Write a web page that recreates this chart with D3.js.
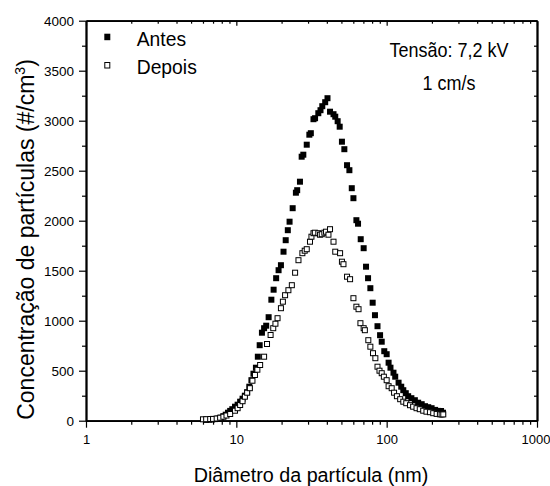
<!DOCTYPE html>
<html>
<head>
<meta charset="utf-8">
<script src="https://cdn.jsdelivr.net/npm/d3@7/dist/d3.min.js"></script>
<style>
  body { margin: 0; background: #fff; }
  svg { display: block; }
  text { font-family: "Liberation Sans", Arial, Helvetica, sans-serif; fill: #000; }
</style>
</head>
<body>
<svg id="chart" width="550" height="486"></svg>
<script>
// Particle size distribution before / after (diameter in nm, concentration in #/cm3)
const antesDiam = [6.3, 6.6, 6.9, 7.2, 7.6, 7.9, 8.2, 8.5, 8.8, 9.1, 9.4, 9.8, 10.2, 10.6, 11.0, 11.4, 11.8, 12.2, 12.6, 13.0,
  13.5, 13.9, 14.3, 14.8, 15.3, 15.8, 16.4, 17.1, 17.7, 18.4, 19.1, 19.8, 20.6, 21.3, 22.0, 22.6, 23.7, 24.9, 25.4, 26.5,
  27.2, 27.9, 29.4, 30.6, 31.3, 32.6, 33.4, 35.1, 36.3, 37.3, 39.0, 40.4, 42.0, 44.3, 45.5, 47.2, 48.7, 50.4, 52.3, 54.5,
  56.5, 58.6, 60.1, 62.9, 64.5, 67.2, 70.3, 72.9, 75.2, 77.9, 80.7, 83.6, 86.9, 90.4, 92.7, 96.4, 100, 103, 106, 111,
  114, 120, 125, 129, 134, 139, 146, 154, 162, 171, 180, 189, 199, 210, 220, 230, 237];
const antesConc = [8, 10, 12, 16, 22, 30, 45, 60, 80, 98, 115, 140, 160, 190, 220, 250, 285, 340, 405, 470,
  530, 640, 755, 880, 925, 950, 1035, 1210, 1310, 1425, 1505, 1555, 1690, 1805, 1905, 1990, 2125, 2280, 2305, 2390,
  2640, 2660, 2760, 2860, 2875, 3015, 3025, 3075, 3105, 3145, 3185, 3225, 3090, 3065, 3040, 2995, 2940, 2790, 2715, 2555,
  2505, 2325, 2225, 2005, 1970, 1815, 1725, 1540, 1425, 1325, 1180, 1055, 945, 855, 790, 695, 665, 580, 530, 480,
  440, 380, 340, 305, 275, 245, 225, 205, 180, 165, 145, 135, 125, 108, 98, 97, 80];

const depoisDiam = [6.0, 6.3, 6.7, 7.0, 7.4, 7.8, 8.2, 8.6, 9.1, 9.8, 10.2, 10.6, 11.0, 11.4, 11.8, 12.3, 12.8, 13.3, 13.8, 14.4,
  15.3, 16.0, 16.9, 17.6, 18.2, 18.8, 19.8, 20.4, 21.1, 22.2, 23.4, 24.6, 25.9, 27.5, 28.5, 29.4, 30.9, 31.6, 32.6, 33.3,
  35.1, 36.0, 37.0, 38.5, 39.5, 41.0, 42.0, 44.3, 45.5, 49.0, 50.4, 51.6, 54.5, 57.1, 60.1, 62.9, 65.0, 66.9, 70.3, 71.6,
  75.5, 77.9, 81.1, 84.1, 86.9, 89.6, 92.7, 95.8, 100, 103, 108, 112, 117, 123, 129, 135, 143, 150, 158, 166,
  175, 184, 194, 204, 215, 226, 232, 238];
const depoisConc = [14, 15, 17, 18, 22, 30, 40, 52, 67, 100, 125, 157, 195, 240, 280, 325, 400, 457, 510, 557,
  640, 767, 857, 925, 970, 1025, 1125, 1190, 1255, 1305, 1355, 1480, 1605, 1675, 1700, 1715, 1790, 1840, 1875, 1880,
  1875, 1860, 1865, 1880, 1890, 1860, 1915, 1790, 1690, 1675, 1590, 1565, 1440, 1415, 1225, 1140, 1115, 975, 925, 905,
  805, 740, 675, 625, 540, 500, 475, 440, 405, 345, 325, 280, 245, 215, 190, 175, 155, 140, 125, 115,
  100, 90, 85, 75, 68, 64, 62, 63];

const xTickValues = [1, 10, 100, 1000];
const yTickValues = [0, 500, 1000, 1500, 2000, 2500, 3000, 3500, 4000];
const yMinorValues = [250, 750, 1250, 1750, 2250, 2750, 3250, 3750];
const xMinorValues = [2, 3, 4, 5, 6, 7, 8, 9, 20, 30, 40, 50, 60, 70, 80, 90, 200, 300, 400, 500, 600, 700, 800, 900];

const seriesNames = ["Antes", "Depois"];
const noteLines = ["Tensão: 7,2 kV", "1 cm/s"];

const svg = d3.select("#chart");
const plotLeft = 86, plotRight = 537, plotTop = 20.7, plotBottom = 420.7;

const x = d3.scaleLog().domain([1, 1000]).range([plotLeft, plotRight]);
const y = d3.scaleLinear().domain([0, 4000]).range([plotBottom, plotTop]);

const axisStroke = 1.8;
function styleAxis(g, fontSize) {
  g.attr("font-family", null);
  g.select(".domain").attr("stroke", "#000").attr("stroke-width", axisStroke);
  g.selectAll(".tick line").attr("stroke", "#000").attr("stroke-width", 1.2);
  g.selectAll("text").attr("font-size", fontSize || 13.5).attr("fill", "#000");
}

// Left axis (outward ticks with labels)
svg.append("g").attr("transform", `translate(${plotLeft},0)`)
  .call(d3.axisLeft(y).tickValues(yTickValues).tickSize(7).tickSizeOuter(0).tickPadding(5).tickFormat(d3.format("d")))
  .call(styleAxis, 13.5);
svg.append("g").attr("transform", `translate(${plotLeft},0)`)
  .call(d3.axisLeft(y).tickValues(yMinorValues).tickSize(4).tickSizeOuter(0).tickFormat(""))
  .call(styleAxis);

// Bottom axis (outward ticks with labels)
const xAxisG = svg.append("g").attr("transform", `translate(0,${plotBottom})`)
  .call(d3.axisBottom(x).tickValues(xTickValues).tickSize(7).tickSizeOuter(0).tickPadding(7).tickFormat(d3.format("d")))
  .call(styleAxis, 13);
// keep the last decade label inside the canvas
xAxisG.selectAll(".tick text").filter(d => d === 1000).attr("text-anchor", "end").attr("x", 13);
svg.append("g").attr("transform", `translate(0,${plotBottom})`)
  .call(d3.axisBottom(x).tickValues(xMinorValues).tickSize(4).tickSizeOuter(0).tickFormat(""))
  .call(styleAxis);

// Top and right mirror axes (inward ticks, no labels)
svg.append("g").attr("transform", `translate(0,${plotTop})`)
  .call(d3.axisTop(x).tickValues(xTickValues).tickSize(-5).tickSizeOuter(0).tickFormat(""))
  .call(styleAxis);
svg.append("g").attr("transform", `translate(0,${plotTop})`)
  .call(d3.axisTop(x).tickValues(xMinorValues).tickSize(-3).tickSizeOuter(0).tickFormat(""))
  .call(styleAxis);
svg.append("g").attr("transform", `translate(${plotRight},0)`)
  .call(d3.axisRight(y).tickValues(yTickValues).tickSize(-5).tickSizeOuter(0).tickFormat(""))
  .call(styleAxis);
svg.append("g").attr("transform", `translate(${plotRight},0)`)
  .call(d3.axisRight(y).tickValues(yMinorValues).tickSize(-3).tickSizeOuter(0).tickFormat(""))
  .call(styleAxis);

// Markers
const size = 6;
const antes = antesDiam.map((d, i) => ({ d, v: antesConc[i] }));
const depois = depoisDiam.map((d, i) => ({ d, v: depoisConc[i] }));

svg.append("g").selectAll("rect").data(antes).join("rect")
  .attr("x", p => x(p.d) - size / 2).attr("y", p => y(p.v) - size / 2)
  .attr("width", size).attr("height", size).attr("fill", "#000");

svg.append("g").selectAll("rect").data(depois).join("rect")
  .attr("x", p => x(p.d) - (size - 1) / 2).attr("y", p => y(p.v) - (size - 1) / 2)
  .attr("width", size - 1).attr("height", size - 1)
  .attr("fill", "#fff").attr("stroke", "#000").attr("stroke-width", 1);

// Legend
const legend = svg.append("g");
legend.append("rect").attr("x", 104.3).attr("y", 33.7).attr("width", 6).attr("height", 6.5).attr("fill", "#000");
legend.append("rect").attr("x", 104.8).attr("y", 62.5).attr("width", 5).attr("height", 5.5)
  .attr("fill", "#fff").attr("stroke", "#000").attr("stroke-width", 1);
[[seriesNames[0], 45.7], [seriesNames[1], 74]].forEach(([t, by]) => {
  legend.append("g").attr("transform", `translate(136.7,${by}) scale(0.92,1)`)
    .append("text").attr("font-size", 21).text(t);
});

// Annotation
[[noteLines[0], 57.3], [noteLines[1], 90]].forEach(([t, by]) => {
  svg.append("g").attr("transform", `translate(449,${by}) scale(0.9,1)`)
    .append("text").attr("text-anchor", "middle").attr("font-size", 20).text(t);
});

// Axis titles
svg.append("g").attr("transform", "translate(311,481.7) scale(0.94,1)")
  .append("text").attr("text-anchor", "middle").attr("font-size", 21).text("Diâmetro da partícula (nm)");

const yTitle = svg.append("text").attr("transform", "translate(34,239.5) rotate(-90)")
  .attr("text-anchor", "middle").attr("font-size", 23);
yTitle.append("tspan").text("Concentração de partículas (#/cm");
yTitle.append("tspan").attr("font-size", 14).attr("dy", -9).text("3");
yTitle.append("tspan").attr("dy", 9).text(")");
</script>
</body>
</html>
